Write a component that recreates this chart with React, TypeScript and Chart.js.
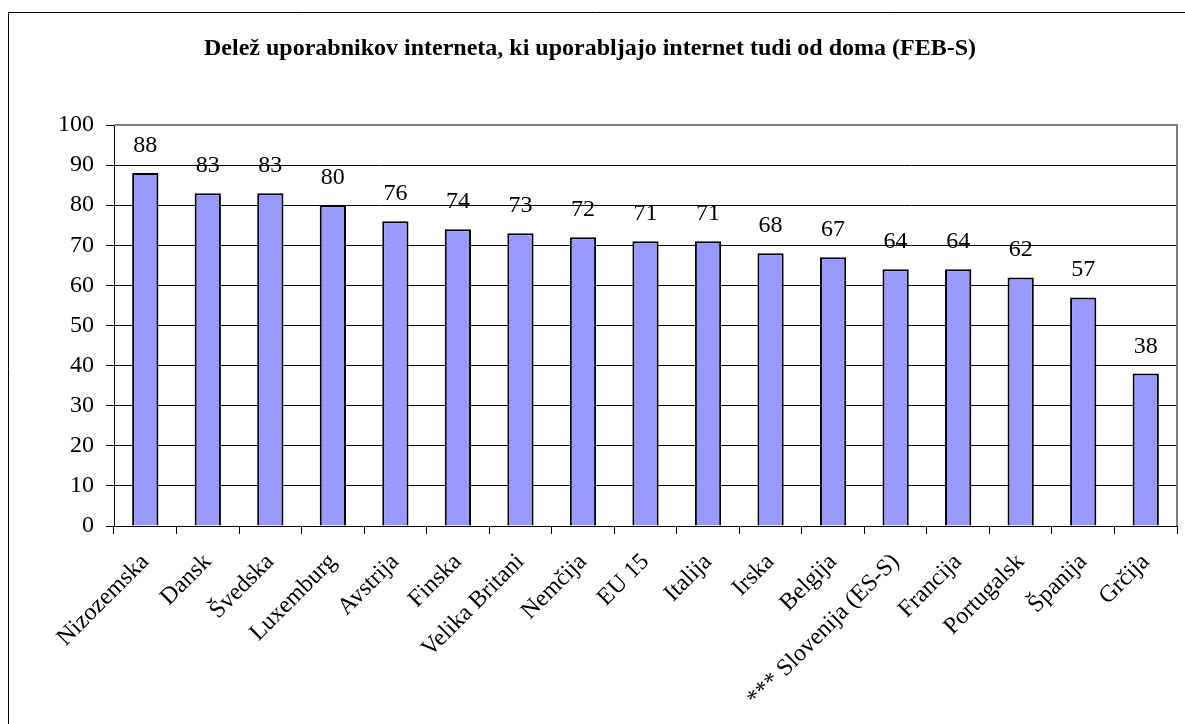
import React, { useEffect, useRef } from 'react';
import { Chart, registerables } from 'chart.js';

Chart.register(...registerables);

const titleText = 'Delež uporabnikov interneta, ki uporabljajo internet tudi od doma (FEB-S)';

const categories = [
  'Nizozemska', 'Dansk', 'Švedska', 'Luxemburg', 'Avstrija', 'Finska', 'Velika Britani',
  'Nemčija', 'EU 15', 'Italija', 'Irska', 'Belgija', '*** Slovenija (ES-S)', 'Francija',
  'Portugalsk', 'Španija', 'Grčija',
];

const values = [88, 83, 83, 80, 76, 74, 73, 72, 71, 71, 68, 67, 64, 64, 62, 57, 38];

const yMin = 0;
const yMax = 100;
const yStep = 10;

const FONT = "'Liberation Serif', 'Times New Roman', serif";

const decorPlugin = {
  id: 'decor',
  beforeDraw(chart: any) {
    const { ctx, width, height } = chart;
    ctx.save();
    ctx.fillStyle = '#ffffff';
    ctx.fillRect(0, 0, width, height);
    // outer border (left & top visible)
    ctx.strokeStyle = '#000000';
    ctx.lineWidth = 1;
    ctx.beginPath();
    ctx.moveTo(8.5, height);
    ctx.lineTo(8.5, 12.5);
    ctx.lineTo(width, 12.5);
    ctx.stroke();
    // title
    ctx.fillStyle = '#000000';
    ctx.font = `bold 24px ${FONT}`;
    ctx.textAlign = 'center';
    ctx.textBaseline = 'alphabetic';
    ctx.fillText(titleText, 590, 55);
    ctx.restore();
  },
  afterDatasetsDraw(chart: any) {
    const { ctx, chartArea } = chart;
    ctx.save();
    // grey top/right frame
    ctx.strokeStyle = '#808080';
    ctx.lineWidth = 2;
    ctx.beginPath();
    ctx.moveTo(chartArea.left, chartArea.top);
    ctx.lineTo(chartArea.right, chartArea.top);
    ctx.lineTo(chartArea.right, chartArea.bottom);
    ctx.stroke();
    // data labels
    const meta = chart.getDatasetMeta(0);
    ctx.fillStyle = '#000000';
    ctx.font = `24px ${FONT}`;
    ctx.textAlign = 'center';
    ctx.textBaseline = 'alphabetic';
    meta.data.forEach((bar: any, i: number) => {
      ctx.fillText(String(values[i]), bar.x, bar.y - 21);
    });
    ctx.restore();
  },
};

export default function App() {
  const canvasRef = useRef<HTMLCanvasElement | null>(null);

  useEffect(() => {
    const canvas = canvasRef.current;
    if (!canvas) return;
    const chart = new Chart(canvas, {
      type: 'bar',
      data: {
        labels: categories,
        datasets: [
          {
            data: values,
            backgroundColor: '#9999FF',
            borderColor: '#000000',
            borderWidth: 2,
            barPercentage: 0.42,
            categoryPercentage: 1,
          },
        ],
      },
      options: {
        responsive: false,
        animation: false,
        devicePixelRatio: 1,
        layout: { padding: { top: 125, right: 8, left: 0, bottom: 0 } },
        plugins: {
          legend: { display: false },
          tooltip: { enabled: false },
          title: { display: false },
        },
        scales: {
          x: {
            grid: {
              offset: true,
              drawOnChartArea: false,
              color: '#000000',
              tickLength: 8,
              tickColor: '#000000',
            },
            border: { color: '#000000', width: 1 },
            ticks: {
              autoSkip: false,
              minRotation: 45,
              maxRotation: 45,
              color: '#000000',
              font: { family: FONT, size: 24 },
              padding: 14,
            },
            afterFit(scale: any) {
              scale.height = 198;
            },
          },
          y: {
            min: yMin,
            max: yMax,
            ticks: {
              stepSize: yStep,
              color: '#000000',
              font: { family: FONT, size: 24 },
              padding: 12,
            },
            grid: {
              color: (c: any) => (c.tick && c.tick.value === yMax ? '#808080' : '#000000'),
              tickColor: '#000000',
              tickLength: 8,
              lineWidth: 1,
            },
            border: { color: '#000000', width: 1 },
            afterFit(scale: any) {
              scale.width = 114;
            },
          },
        },
      },
      plugins: [decorPlugin],
    });
    return () => chart.destroy();
  }, []);

  return (
    <div style={{ position: 'fixed', left: 0, top: 0, width: 1185, height: 724 }}>
      <canvas ref={canvasRef} width={1185} height={724} />
    </div>
  );
}
